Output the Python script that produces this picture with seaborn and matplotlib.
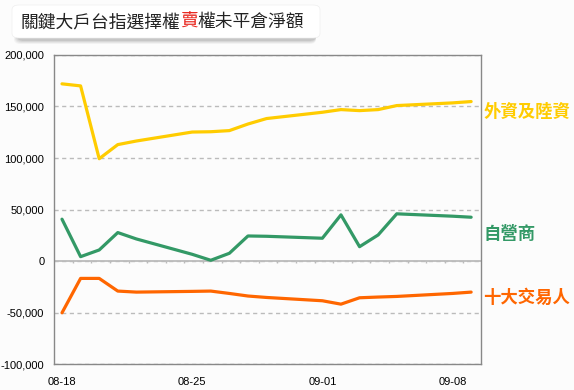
import pandas as pd
import numpy as np
import seaborn as sns
import matplotlib.pyplot as plt
import matplotlib.dates as mdates
import matplotlib.transforms as mtransforms
from matplotlib.patches import FancyBboxPatch
from matplotlib.ticker import FuncFormatter

# dados (dias úteis)
datas = ['2025-08-18', '2025-08-19', '2025-08-20', '2025-08-21', '2025-08-22',
         '2025-08-25', '2025-08-26', '2025-08-27', '2025-08-28', '2025-08-29',
         '2025-09-01', '2025-09-02', '2025-09-03', '2025-09-04', '2025-09-05',
         '2025-09-08', '2025-09-09']
series_nomes = ['外資及陸資', '自營商', '十大交易人']
estrangeiros = [172000, 170000, 99300, 113000, 116500, 125200, 125500, 126600, 133000, 138300,
                144400, 147000, 146000, 147000, 150900, 153500, 154800]
dealers = [40600, 4200, 10700, 27600, 21400, 6500, 700, 7500, 24300, 24000,
           22100, 44800, 13900, 25300, 45800, 43500, 42500]
top10 = [-50300, -16900, -16900, -29200, -30200, -29500, -29200, -31500, -34000, -35400,
         -38600, -41900, -35700, -35000, -34400, -31500, -30200]
cores = ['#FFCC00', '#339966', '#FF6600']
yticks = [-100000, -50000, 0, 50000, 100000, 150000, 200000]
xticks = ['2025-08-18', '2025-08-25', '2025-09-01', '2025-09-08']
titulo = ['關鍵大戶台指選擇權', '賣', '權未平倉淨額']
titulo_cores = ['#222222', '#e8231b', '#222222']

df = pd.DataFrame({
    'data': pd.to_datetime(datas * 3),
    'valor': estrangeiros + dealers + top10,
    'serie': np.repeat(series_nomes, len(datas)),
})

sns.set_style('white')
plt.rcParams['font.family'] = ['Liberation Sans', 'Noto Sans CJK TC', 'DejaVu Sans']

bg = '#fcfcfc'
fig = plt.figure(figsize=(5.74, 3.9), dpi=100, facecolor=bg)
W, H = 574, 390
ax = fig.add_axes([54 / W, 1 - 364 / H, (481 - 54) / W, (364 - 55) / H])
ax.set_facecolor(bg)

# grade
ax.yaxis.grid(True, linestyle=(0, (3, 2.5)), color='#bbbbbb', linewidth=1)
ax.axhline(0, color='#bbbbbb', linewidth=1.3, zorder=1)
dias = pd.date_range('2025-08-18', '2025-09-09') + pd.Timedelta(hours=14)
ax.vlines(mdates.date2num(dias), -2200, 0, color='#bbbbbb', linewidth=1, zorder=1)

sns.lineplot(data=df, x='data', y='valor', hue='serie', hue_order=series_nomes,
             palette=cores, linewidth=2.3, legend=False, ax=ax, zorder=3)

x0 = mdates.date2num(pd.Timestamp('2025-08-18'))
ax.set_xlim(x0 - 0.43, x0 + 22.53)
ax.set_ylim(-100000, 200000)
ax.set_yticks(yticks)
ax.yaxis.set_major_formatter(FuncFormatter(lambda v, p: f'{v:,.0f}'))
ax.set_xticks(mdates.date2num(pd.to_datetime(xticks)))
ax.xaxis.set_major_formatter(mdates.DateFormatter('%m-%d'))
ax.tick_params(axis='both', length=0, labelsize=8, colors='black')
ax.tick_params(axis='x', pad=9.5)
ax.tick_params(axis='y', pad=7)
ax.set_xlabel('')
ax.set_ylabel('')
for s in ax.spines.values():
    s.set_visible(True)
    s.set_color('#888888')
    s.set_linewidth(1)

# rótulos das séries à direita
trans = mtransforms.blended_transform_factory(ax.transAxes, ax.transData)
pos_rotulos = [144400, 26300, -36000]
for nome, cor, yv in zip(series_nomes, cores, pos_rotulos):
    ax.text(1.005, yv, nome, transform=trans, color=cor, fontsize=12.5,
            fontweight='bold', va='center', ha='left', family=['Noto Sans CJK TC'])

# caixa do título com sombra
for i, a in enumerate([0.04, 0.05, 0.06, 0.08]):
    off = 5 - i
    sh = FancyBboxPatch(((14 + i) / W, 1 - (39 + off) / H), (302 - i) / W, 32 / H,
                        boxstyle='round,pad=0,rounding_size=0.012',
                        transform=fig.transFigure, facecolor='black', alpha=a,
                        edgecolor='none', zorder=0)
    fig.add_artist(sh)
box = FancyBboxPatch((12 / W, 1 - 38 / H), 308 / W, 33 / H,
                     boxstyle='round,pad=0,rounding_size=0.012',
                     transform=fig.transFigure, facecolor='white',
                     edgecolor='#eeeeee', linewidth=0.5, zorder=1)
fig.add_artist(box)

# título em partes (caracteres CJK com largura de 1 em)
fs = 12.8
em = fs * 100 / 72
x = 20
for parte, cor in zip(titulo, titulo_cores):
    fig.text(x / W, 1 - 22 / H, parte, fontsize=fs, color=cor, va='center', ha='left',
             family=['Noto Sans CJK TC', 'DejaVu Sans'], zorder=2)
    x += em * len(parte)

fig.savefig('out.png', dpi=100, facecolor=bg)
